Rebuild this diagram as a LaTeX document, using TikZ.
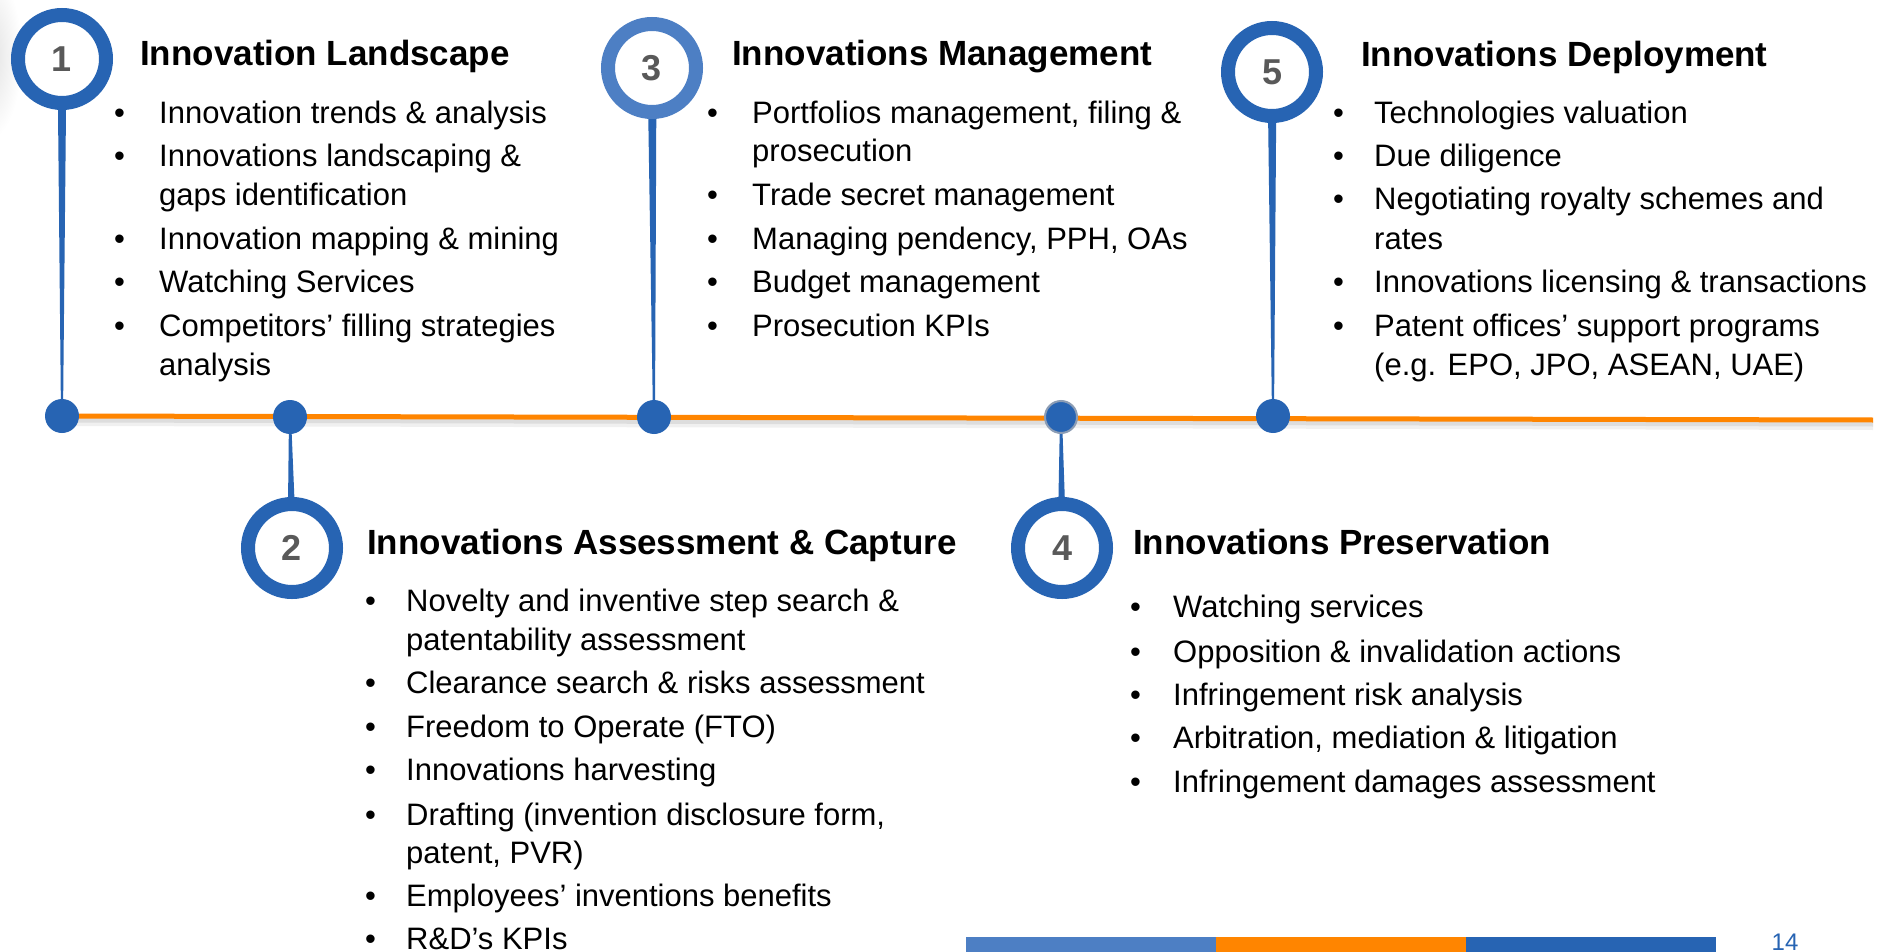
\documentclass[tikz,border=0pt]{standalone}
\usepackage{fontspec}
\setmainfont{Liberation Sans}
\usetikzlibrary{calc}
\definecolor{dblue}{HTML}{2764B3}
\definecolor{lblue}{HTML}{4D7FC4}
\definecolor{orng}{HTML}{FF8500}
\definecolor{numgray}{HTML}{595959}
\definecolor{dotrim}{HTML}{8C9DB5}
\begin{document}
\begin{tikzpicture}[x=1pt,y=-1pt,
  ring/.style={circle,draw=dblue,line width=14pt,fill=white,minimum size=88pt,inner sep=0pt,
    font=\fontsize{36}{36}\selectfont\bfseries,text=numgray},
  dot/.style={circle,fill=dblue,minimum size=34pt,inner sep=0pt},
  stemfill/.style={fill=dblue},
  ttl/.style={anchor=base west,inner sep=0pt,font=\fontsize{35}{40}\selectfont\bfseries},
  bul/.style={anchor=base west,inner sep=0pt,font=\fontsize{31}{37}\selectfont},
  txt/.style={anchor=base west,inner sep=0pt,font=\fontsize{31}{37}\selectfont},
  tline/.style={orng,line width=5pt},
  bar/.style={inner sep=0pt,outer sep=0pt,minimum height=16pt,minimum width=250pt,anchor=north west},
]
\useasboundingbox (0,0) rectangle (1882,952);
\fill[white] (0,0) rectangle (1882,952);
\begin{scope}
\clip (0,0) rectangle (1882,952);
\shade[inner color=black!12,outer color=white] (-12,55) ellipse (34 and 85);
\end{scope}

% positions
\coordinate (p1) at (62,59);
\coordinate (p2) at (292,548);
\coordinate (p3) at (652,68);
\coordinate (p4) at (1062,548);
\coordinate (p5) at (1272,72);
\coordinate (q1) at (62,416);
\coordinate (q2) at (290,417);
\coordinate (q3) at (654,417);
\coordinate (q4) at (1061,417);
\coordinate (q5) at (1273,416);
\coordinate (lend) at (1873,420);

% timeline with shadow
\draw[black,opacity=0.06,line width=10pt] ($(q1)+(0,5)$) -- ($(lend)+(0,5)$);
\draw[black,opacity=0.08,line width=5pt] ($(q1)+(0,4)$) -- ($(lend)+(0,4)$);
\draw[tline] (q1) -- (lend);

% stems
\foreach \i in {1,...,5}{
  \fill[stemfill] ($(p\i)+(-4.5,0)$) -- ($(p\i)+(4.5,0)$) -- ($(q\i)+(1,0)$) -- ($(q\i)+(-1,0)$) -- cycle;
}

% dots
\node[dot] (d1) at (q1) {};
\node[dot] (d2) at (q2) {};
\node[dot] (d3) at (q3) {};
\node[dot,draw=dotrim,line width=2pt,minimum size=32pt] (d4) at (q4) {};
\node[dot] (d5) at (q5) {};

% rings
\node[ring] (c1) at (p1) {1};
\node[ring] (c2) at (p2) {2};
\node[ring,draw=lblue] (c3) at (p3) {3};
\node[ring] (c4) at (p4) {4};
\node[ring] (c5) at (p5) {5};

% titles
\node[ttl] (t1) at (140,66) {Innovation Landscape};
\node[ttl] (t3) at (732,66) {Innovations Management};
\node[ttl] (t5) at (1361,67) {Innovations Deployment};
\node[ttl] (t2) at (367,554) {Innovations Assessment \& Capture};
\node[ttl] (t4) at (1133,554) {Innovations Preservation};

% section 1
\node[bul] (b1a) at (114,124) {\textbullet};
\node[txt] (l1a) at (159,124) {Innovation trends \& analysis};
\node[bul] (b1b) at (114,167) {\textbullet};
\node[txt] (l1b) at (159,167) {Innovations landscaping \&};
\node[txt] (l1c) at (159,206) {gaps identification};
\node[bul] (b1d) at (114,249) {\textbullet};
\node[txt] (l1d) at (159,249) {Innovation mapping \& mining};
\node[bul] (b1e) at (114,292) {\textbullet};
\node[txt] (l1e) at (159,292) {Watching Services};
\node[bul] (b1f) at (114,336) {\textbullet};
\node[txt] (l1f) at (159,336) {Competitors’ filling strategies};
\node[txt] (l1g) at (159,375) {analysis};

% section 3
\node[bul] (b3a) at (707,124) {\textbullet};
\node[txt] (l3a) at (752,124) {Portfolios management, filing \&};
\node[txt] (l3b) at (752,162) {prosecution};
\node[bul] (b3c) at (707,206) {\textbullet};
\node[txt] (l3c) at (752,206) {Trade secret management};
\node[bul] (b3d) at (707,249) {\textbullet};
\node[txt] (l3d) at (752,249) {Managing pendency, PPH, OAs};
\node[bul] (b3e) at (707,292) {\textbullet};
\node[txt] (l3e) at (752,292) {Budget management};
\node[bul] (b3f) at (707,336) {\textbullet};
\node[txt] (l3f) at (752,336) {Prosecution KPIs};

% section 5
\node[bul] (b5a) at (1333,124) {\textbullet};
\node[txt] (l5a) at (1374,124) {Technologies valuation};
\node[bul] (b5b) at (1333,167) {\textbullet};
\node[txt] (l5b) at (1374,167) {Due diligence};
\node[bul] (b5c) at (1333,210) {\textbullet};
\node[txt] (l5c) at (1374,210) {Negotiating royalty schemes and};
\node[txt] (l5d) at (1374,249) {rates};
\node[bul] (b5e) at (1333,292) {\textbullet};
\node[txt] (l5e) at (1374,292) {Innovations licensing \& transactions};
\node[bul] (b5f) at (1333,336) {\textbullet};
\node[txt] (l5f) at (1374,336) {Patent offices’ support programs};
\node[txt] (l5g) at (1374,375) {(e.g. EPO, JPO, ASEAN, UAE)};

% section 2
\node[bul] (b2a) at (365,611) {\textbullet};
\node[txt] (l2a) at (406,611) {Novelty and inventive step search \&};
\node[txt] (l2b) at (406,650) {patentability assessment};
\node[bul] (b2c) at (365,693) {\textbullet};
\node[txt] (l2c) at (406,693) {Clearance search \& risks assessment};
\node[bul] (b2d) at (365,737) {\textbullet};
\node[txt] (l2d) at (406,737) {Freedom to Operate (FTO)};
\node[bul] (b2e) at (365,780) {\textbullet};
\node[txt] (l2e) at (406,780) {Innovations harvesting};
\node[bul] (b2f) at (365,825) {\textbullet};
\node[txt] (l2f) at (406,825) {Drafting (invention disclosure form,};
\node[txt] (l2g) at (406,863) {patent, PVR)};
\node[bul] (b2h) at (365,906) {\textbullet};
\node[txt] (l2h) at (406,906) {Employees’ inventions benefits};
\node[bul] (b2i) at (365,949) {\textbullet};
\node[txt] (l2i) at (406,949) {R\&D’s KPIs};

% section 4
\node[bul] (b4a) at (1130,617) {\textbullet};
\node[txt] (l4a) at (1173,617) {Watching services};
\node[bul] (b4b) at (1130,662) {\textbullet};
\node[txt] (l4b) at (1173,662) {Opposition \& invalidation actions};
\node[bul] (b4c) at (1130,705) {\textbullet};
\node[txt] (l4c) at (1173,705) {Infringement risk analysis};
\node[bul] (b4d) at (1130,748) {\textbullet};
\node[txt] (l4d) at (1173,748) {Arbitration, mediation \& litigation};
\node[bul] (b4e) at (1130,792) {\textbullet};
\node[txt] (l4e) at (1173,792) {Infringement damages assessment};

% footer bar
\node[bar,fill=lblue] (f1) at (966,937) {};
\node[bar,fill=orng] (f2) at (1216,937) {};
\node[bar,fill=dblue] (f3) at (1466,937) {};
\node[anchor=base,inner sep=0pt,text=dblue,font=\fontsize{24}{24}\selectfont] (pg) at (1785,950) {14};
\end{tikzpicture}
\end{document}
